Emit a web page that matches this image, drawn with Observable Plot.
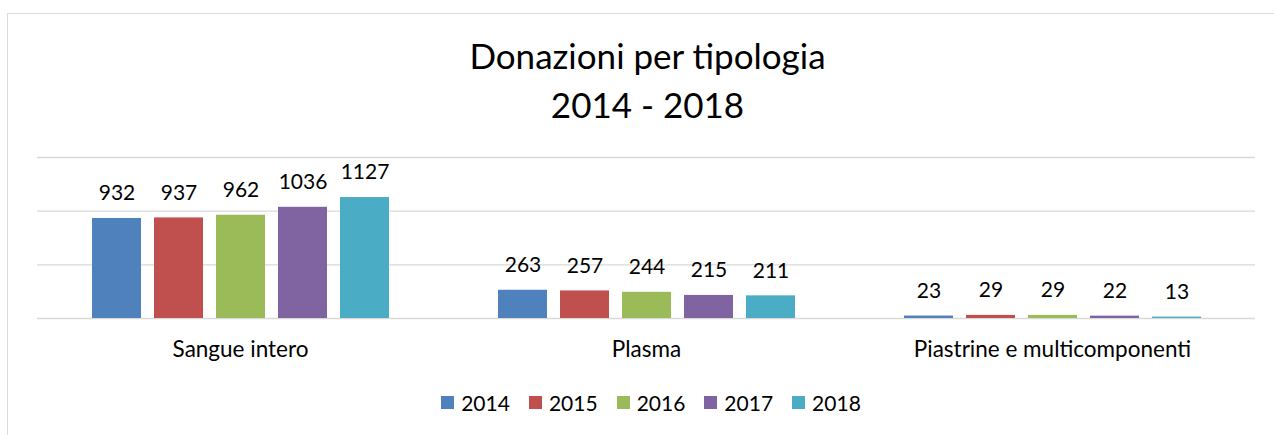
<!DOCTYPE html>
<html>
<head>
<meta charset="utf-8">
<script src="https://cdn.jsdelivr.net/npm/d3@7"></script>
<script src="https://cdn.jsdelivr.net/npm/@observablehq/plot@0.6"></script>
<style>
  html, body { margin: 0; padding: 0; background: #fff; overflow: hidden; }
  body { width: 1274px; height: 435px; position: relative; font-family: Lato, sans-serif; color: #000; }
  #frame { position: absolute; left: 7px; top: 13px; width: 1400px; height: 500px; border: 1px solid #d9d9d9; box-sizing: border-box; }
  #title { position: absolute; left: 7px; width: 1281px; top: 31px; text-align: center; font-size: 35px; line-height: 49px; font-family: Lato, sans-serif; }
  #chart { position: absolute; left: 0; top: 130px; }
  #legend { position: absolute; left: 7px; width: 1288px; top: 390px; height: 25px; display: flex; justify-content: center; align-items: center; }
  #legend .leg-swatches { font-family: Lato, sans-serif !important; font-size: 21px !important; margin: 0 !important; min-height: 0 !important; display: flex; justify-content: center; align-items: center; color: #000; }
  #legend .leg-swatch { display: inline-flex !important; align-items: center; margin: 0 9.5px !important; }
  #legend .leg-swatch > svg { margin-right: 7px !important; }
</style>
</head>
<body>
<div id="frame"></div>
<div id="title">Donazioni per tipologia<br>2014 - 2018</div>
<div id="chart"></div>
<div id="legend"></div>
<script>
const categories = ["Sangue intero", "Plasma", "Piastrine e multicomponenti"];
const years = ["2014", "2015", "2016", "2017", "2018"];
const colors = ["#4F81BD", "#C0504D", "#9BBB59", "#8064A2", "#4BACC6"];
const values2014 = [932, 263, 23];
const values2015 = [937, 257, 29];
const values2016 = [962, 244, 29];
const values2017 = [1036, 215, 22];
const values2018 = [1127, 211, 13];
const yTicks = [0, 500, 1000, 1500];

const series = [values2014, values2015, values2016, values2017, values2018];
const data = [];
categories.forEach((cat, i) => {
  years.forEach((yr, j) => {
    data.push({cat, year: yr, value: series[j][i]});
  });
});

const chart = Plot.plot({
  width: 1274,
  height: 250,
  marginTop: 27,
  marginBottom: 62,
  marginLeft: 36,
  marginRight: 18,
  style: {fontFamily: "Lato, sans-serif", fontSize: "22.5px", color: "#000", background: "transparent", overflow: "visible"},
  fx: {domain: categories, padding: 0, label: null, axis: "bottom", tickSize: 0, tickPadding: 23},
  x: {domain: years, paddingInner: 0.217, paddingOuter: 0.854, axis: null},
  y: {domain: [0, 1500], axis: null},
  color: {domain: years, range: colors},
  marks: [
    Plot.ruleY(yTicks, {stroke: "#d9d9d9", strokeWidth: 1.3}),
    Plot.barY(data, {fx: "cat", x: "year", y: "value", fill: "year"}),
    Plot.text(data, {fx: "cat", x: "year", y: "value", text: d => `${d.value}`, dy: -25, fontSize: 21, fill: "#000"})
  ]
});
document.getElementById("chart").appendChild(chart);

const legend = Plot.legend({
  color: {domain: years, range: colors, type: "ordinal"},
  swatchSize: 13,
  className: "leg"
});
document.getElementById("legend").appendChild(legend);
</script>
</body>
</html>
